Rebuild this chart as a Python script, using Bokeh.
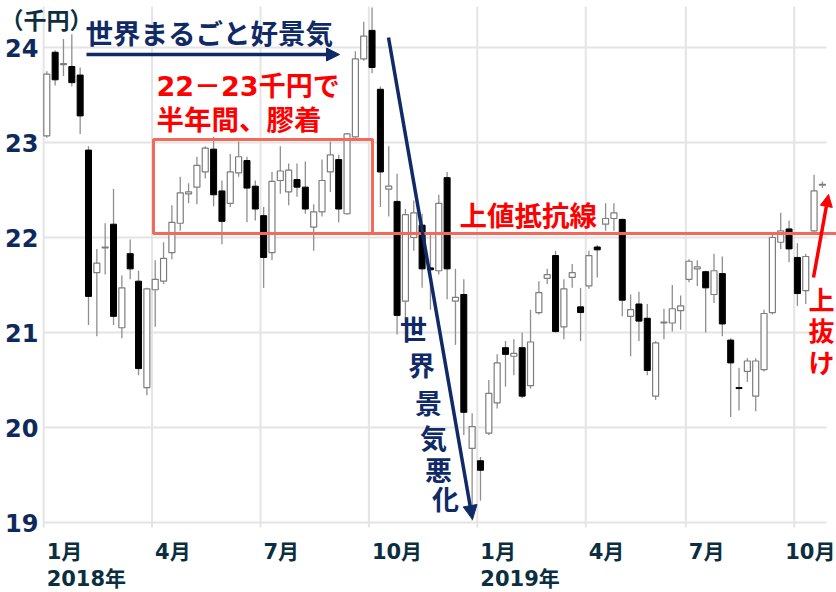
import pandas as pd
from bokeh.plotting import figure
from bokeh.core.properties import value
from bokeh.models import (Range1d, Label, Arrow, NormalHead,
                          BoxAnnotation, ColumnDataSource)
from bokeh.embed import file_html
from bokeh.resources import INLINE

# ---------------- data (weekly OHLC, thousand yen) ----------------
opens = [23.07, 23.95, 23.82, 23.80, 23.71, 22.92, 21.63, 21.89, 22.14, 21.05,
         21.83, 21.54, 20.42, 21.45, 21.54, 21.84, 22.15, 22.46, 22.53, 22.69,
         22.93, 22.49, 22.36, 22.68, 22.81, 22.54, 22.23, 21.84, 22.60, 22.48,
         22.61, 22.53, 22.11, 22.27, 22.69, 22.82, 22.25, 23.06, 23.88, 24.18,
         23.56, 22.51, 22.38, 21.33, 22.00, 22.13, 21.68, 21.65, 22.63, 21.33,
         21.40, 19.78, 19.65, 19.94, 20.26, 20.84, 20.75, 20.84, 20.44, 21.21,
         21.57, 21.81, 21.06, 21.58, 21.27, 21.49, 21.90, 22.14, 22.20, 22.19,
         21.17, 21.30, 21.15, 20.33, 21.10, 21.10, 21.23, 21.56, 21.67, 21.64,
         21.40, 21.62, 20.92, 20.42, 20.59, 20.33, 20.61, 21.21, 21.95, 22.09,
         21.79, 21.44, 22.07, 22.55]
highs = [23.75, 23.97, 24.09, 24.14, 23.79, 22.96, 21.88, 22.15, 22.51, 21.60,
         21.98, 21.65, 21.47, 21.76, 21.95, 22.34, 22.64, 22.57, 22.85, 22.96,
         23.06, 22.60, 22.88, 23.01, 22.85, 22.60, 22.32, 22.69, 22.96, 22.78,
         22.78, 22.80, 22.35, 22.82, 23.01, 22.87, 23.10, 23.96, 24.27, 24.42,
         23.59, 22.96, 22.67, 22.30, 22.39, 22.25, 22.04, 22.45, 22.69, 21.67,
         21.56, 20.15, 19.69, 20.50, 20.77, 20.91, 20.93, 21.00, 21.24, 21.54,
         21.67, 21.86, 21.56, 21.72, 21.47, 21.86, 21.92, 22.36, 22.36, 22.20,
         21.40, 21.43, 21.30, 20.91, 21.25, 21.50, 21.39, 21.77, 21.76, 21.65,
         21.83, 21.80, 20.94, 20.63, 20.73, 20.73, 21.24, 22.04, 22.26, 22.18,
         21.94, 21.83, 22.66, 22.59]
lows = [23.05, 23.60, 23.70, 23.59, 23.09, 21.08, 20.96, 21.61, 21.08, 20.94,
        21.56, 20.55, 20.34, 21.06, 21.51, 21.77, 22.07, 22.36, 22.35, 22.62,
        22.33, 21.93, 22.32, 22.64, 22.16, 22.18, 21.47, 21.76, 22.46, 22.34,
        22.43, 22.25, 21.86, 22.22, 22.48, 22.16, 22.24, 23.05, 23.86, 23.73,
        22.32, 22.22, 20.98, 21.10, 21.86, 21.47, 21.24, 21.61, 21.35, 20.87,
        19.92, 19.02, 19.23, 19.92, 20.20, 20.43, 20.55, 20.31, 20.41, 21.19,
        21.51, 21.00, 20.93, 21.47, 20.91, 21.46, 21.58, 22.07, 22.07, 21.17,
        20.75, 20.91, 20.55, 20.29, 20.93, 21.01, 21.03, 21.53, 21.49, 21.00,
        21.31, 20.96, 20.11, 20.18, 20.48, 20.17, 20.59, 21.19, 21.88, 21.74,
        21.28, 21.30, 22.04, 22.52]
closes = [23.72, 23.66, 23.83, 23.63, 23.28, 21.38, 21.73, 21.90, 21.17, 21.47,
          21.67, 20.62, 21.46, 21.56, 21.78, 22.16, 22.47, 22.48, 22.76, 22.94,
          22.45, 22.17, 22.69, 22.85, 22.52, 22.30, 21.79, 22.59, 22.70, 22.71,
          22.53, 22.30, 22.27, 22.60, 22.87, 22.30, 23.09, 23.88, 24.12, 23.79,
          22.69, 22.54, 21.18, 22.24, 22.26, 21.67, 21.66, 22.36, 21.67, 21.37,
          20.16, 20.01, 19.55, 20.36, 20.68, 20.77, 20.78, 20.33, 20.90, 21.42,
          21.61, 21.01, 21.46, 21.63, 21.21, 21.81, 21.87, 22.20, 22.26, 21.34,
          21.24, 21.12, 20.60, 20.89, 21.11, 21.25, 21.28, 21.75, 21.69, 21.47,
          21.65, 21.09, 20.68, 20.41, 20.70, 20.70, 21.20, 22.00, 22.07, 21.88,
          21.41, 21.80, 22.49, 22.56]

# trading weeks (Golden Week 2019 had no trading week)
weeks = [d for d in pd.date_range("2018-01-01", periods=95, freq="W-MON")
         if d != pd.Timestamp("2019-04-29")]

tick_months = ["2018-01", "2018-04", "2018-07", "2018-10",
               "2019-01", "2019-04", "2019-07", "2019-10"]
tick_labels = ["1月", "4月", "7月", "10月", "1月", "4月", "7月", "10月"]
year_labels = {0: "2018年", 4: "2019年"}
y_ticks = [19, 20, 21, 22, 23, 24]

# ---------------- helpers (layout, page pixels) ----------------
X0, DX = 46.3, 8.34      # pixel of first candle, pixels per week
PL, PR, PT, PB = 43, 826, 6, 527   # plot area in page pixels
W, H = 836, 592


def X(px):
    return (px - X0) / DX


def Y(py):
    return 24 - (py - 47) / 95.0


def first_week(month):
    m = pd.Timestamp(month + "-01")
    for i, w in enumerate(weeks):
        if w + pd.Timedelta(days=4) >= m:
            return i
    return len(weeks) - 1


tick_pos = [first_week(m) - 0.38 for m in tick_months]

n = len(opens)
up = dict(x=[], low=[], high=[], top=[], bottom=[])
dn = dict(x=[], low=[], high=[], top=[], bottom=[])
for i in range(n):
    d = up if closes[i] >= opens[i] else dn
    d["x"].append(i)
    d["low"].append(lows[i])
    d["high"].append(highs[i])
    d["top"].append(max(opens[i], closes[i]))
    d["bottom"].append(min(opens[i], closes[i]))
up_src = ColumnDataSource(up)
dn_src = ColumnDataSource(dn)

p = figure(width=W, height=H, output_backend="svg", toolbar_location=None,
           x_range=Range1d(X(0), X(W)), y_range=Range1d(Y(H), Y(0)),
           min_border=0)
p.xaxis.visible = False
p.yaxis.visible = False
p.xgrid.visible = False
p.ygrid.visible = False
p.outline_line_color = None
p.background_fill_color = "white"

NAVY = "#0f2a66"
TEAL = "#0b2e40"
RED = "#ff0000"
SALMON = "#f26a5a"
GRID = "#e4e4e4"
JP = "Noto Sans CJK JP"
MIX = "DejaVu Sans, Noto Sans CJK JP"

# grid lines
p.segment(x0=X(PL), x1=X(PR), y0=y_ticks, y1=y_ticks,
          line_color=GRID, line_width=2)
p.segment(x0=tick_pos, x1=tick_pos, y0=Y(PB), y1=Y(PT),
          line_color=GRID, line_width=2)

# y tick labels
p.text(x=X(38), y=y_ticks, text=[str(t) for t in y_ticks],
       text_font=value("DejaVu Sans"), text_font_style="bold",
       text_font_size="24px", text_color="#0e2a5c",
       text_align="right", text_baseline="middle")

# candles
p.segment(x0="x", y0="low", x1="x", y1="high", source=up_src,
          line_color="#8f8f8f", line_width=1.3)
p.segment(x0="x", y0="low", x1="x", y1="high", source=dn_src,
          line_color="#8f8f8f", line_width=1.3)
p.vbar(x="x", width=0.72, top="top", bottom="bottom", source=up_src,
       fill_color="white", line_color="#7d7d7d", line_width=1.2)
p.vbar(x="x", width=0.72, top="top", bottom="bottom", source=dn_src,
       fill_color="black", line_color="black", line_width=1)

# range box and resistance line
p.add_layout(BoxAnnotation(left=X(153), right=X(372), top=Y(139), bottom=Y(233),
                           fill_color=None, fill_alpha=0, line_color=SALMON,
                           line_alpha=1, line_width=3))
p.add_layout(Arrow(end=None, x_start=X(153), y_start=Y(233), x_end=X(840),
                   y_end=Y(233), line_color=SALMON, line_width=3))

# arrows
p.add_layout(Arrow(end=NormalHead(size=13, fill_color=NAVY, line_color=NAVY),
                   x_start=X(86), y_start=Y(54), x_end=X(339), y_end=Y(54),
                   line_color=NAVY, line_width=3.5))
p.add_layout(Arrow(end=NormalHead(size=14, fill_color=NAVY, line_color=NAVY),
                   x_start=X(388), y_start=Y(37), x_end=X(472), y_end=Y(519),
                   line_color=NAVY, line_width=3.5))
p.add_layout(Arrow(end=NormalHead(size=12, fill_color=RED, line_color=RED),
                   x_start=X(813), y_start=Y(277), x_end=X(828), y_end=Y(194),
                   line_color=RED, line_width=3.5))


def label(px, py, text, size, color, align="left", font=JP):
    p.add_layout(Label(x=X(px), y=Y(py), text=text, text_font=font,
                       text_font_style="bold", text_font_size=size,
                       text_color=color, text_align=align,
                       text_baseline="middle"))


label(0, 18, "（千円）", "23px", TEAL)
label(85, 31, "世界まるごと好景気", "27.5px", NAVY)
label(156, 86, "22－23千円で", "27px", RED, font=MIX)
label(156, 117, "半年間、膠着", "27.5px", RED)
label(459, 213, "上値抵抗線", "27.5px", RED)
for ch, (cx, cy) in zip("世界景気悪化", [(413, 328), (421, 364), (428, 402),
                                     (433, 437), (438, 469), (445, 498)]):
    label(cx, cy, ch, "27px", NAVY, align="center")
for ch, (cx, cy) in zip("上抜け", [(821, 298), (821, 329), (821, 361)]):
    label(cx, cy, ch, "26px", RED, align="center")

# x tick labels
for k, (tp, tl) in enumerate(zip(tick_pos, tick_labels)):
    off = -9 if k == len(tick_pos) - 1 else 3
    px = X0 + tp * DX + off
    label(px, 551, tl, "21px", TEAL, font=MIX)
    if k in year_labels:
        label(px, 578, year_labels[k], "21px", TEAL, font=MIX)

open("out.html", "w").write(file_html(p, INLINE))
